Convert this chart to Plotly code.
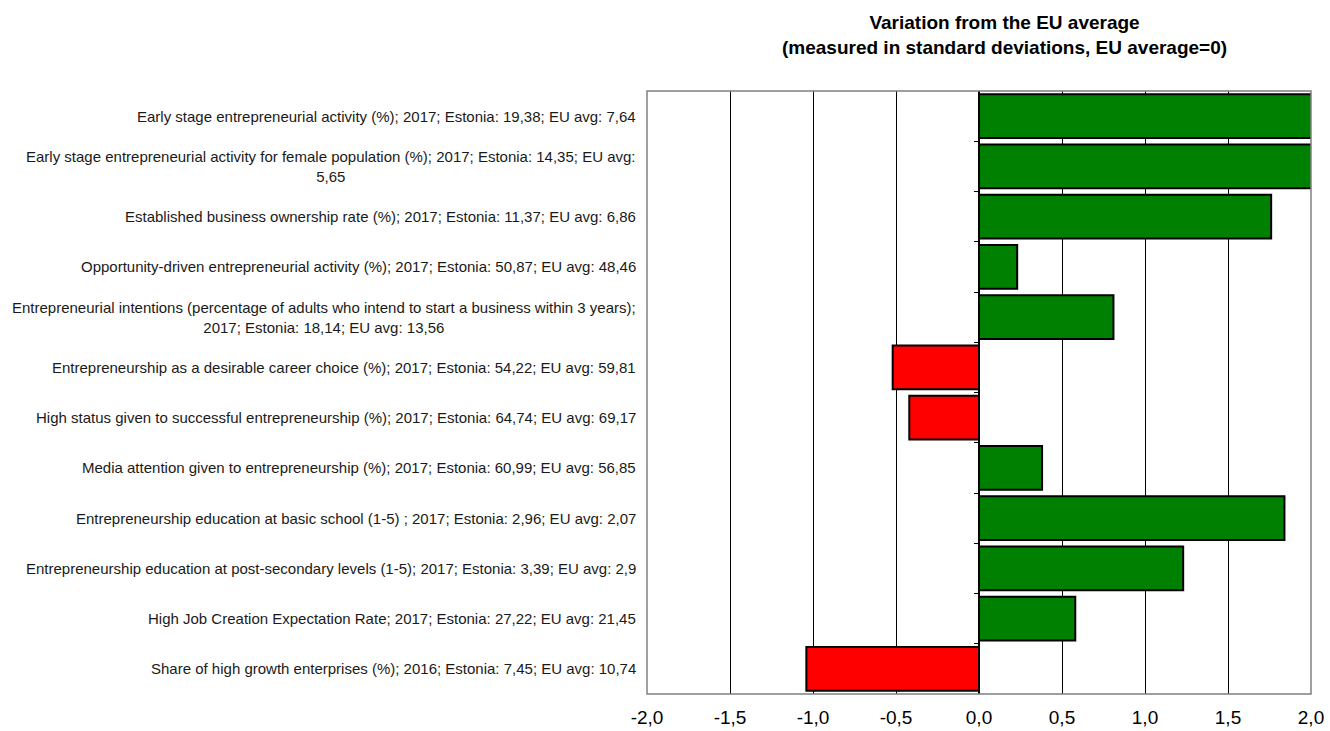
import plotly.graph_objects as go

categories = [
    "Early stage entrepreneurial activity (%); 2017; Estonia: 19,38; EU avg: 7,64",
    "Early stage entrepreneurial activity for female population (%); 2017; Estonia: 14,35; EU avg:<br>5,65",
    "Established business ownership rate (%); 2017; Estonia: 11,37; EU avg: 6,86",
    "Opportunity-driven entrepreneurial activity (%); 2017; Estonia: 50,87; EU avg: 48,46",
    "Entrepreneurial intentions (percentage of adults who intend to start a business within 3 years);<br>2017; Estonia: 18,14; EU avg: 13,56",
    "Entrepreneurship as a desirable career choice (%); 2017; Estonia: 54,22; EU avg: 59,81",
    "High status given to successful entrepreneurship (%); 2017; Estonia: 64,74; EU avg: 69,17",
    "Media attention given to entrepreneurship (%); 2017; Estonia: 60,99; EU avg: 56,85",
    "Entrepreneurship education at basic school (1-5) ; 2017; Estonia: 2,96; EU avg: 2,07",
    "Entrepreneurship education at post-secondary levels (1-5); 2017; Estonia: 3,39; EU avg: 2,9",
    "High Job Creation Expectation Rate; 2017; Estonia: 27,22; EU avg: 21,45",
    "Share of high growth enterprises (%); 2016; Estonia: 7,45; EU avg: 10,74",
]
values = [2.5, 2.3, 1.76, 0.23, 0.81, -0.52, -0.42, 0.38, 1.84, 1.23, 0.58, -1.04]
x_ticks = [-2.0, -1.5, -1.0, -0.5, 0.0, 0.5, 1.0, 1.5, 2.0]
x_tick_labels = ["-2,0", "-1,5", "-1,0", "-0,5", "0,0", "0,5", "1,0", "1,5", "2,0"]
title_text = "<b>Variation from the EU average<br>(measured in standard deviations, EU average=0)</b>"

colors = ["#008000" if v >= 0 else "#FF0000" for v in values]
ids = list(range(len(categories)))

fig = go.Figure()
fig.add_trace(go.Bar(
    x=values, y=ids, orientation="h",
    marker=dict(color=colors, line=dict(color="black", width=2)),
    hoverinfo="x",
))

LABEL_FONT = dict(family="Liberation Sans, Arial", size=15, color="#1a1a1a")
for i, c in zip(ids, categories):
    fig.add_annotation(
        x=0, xref="paper", xanchor="right", xshift=-9,
        y=i, yref="y", yanchor="middle",
        text=c, showarrow=False, align="center", font=LABEL_FONT,
    )

fig.add_annotation(
    x=0.539, xref="paper", xanchor="center",
    y=1.134, yref="paper", yanchor="top",
    text=title_text, showarrow=False, align="center",
    font=dict(family="Liberation Sans, Arial", size=19, color="black"),
)

fig.add_shape(type="rect", xref="paper", yref="paper", x0=0, x1=1, y0=0, y1=1,
              line=dict(color="#808080", width=1.5), layer="above")

fig.update_layout(
    width=1330, height=731,
    margin=dict(l=647, r=19, t=91, b=37, autoexpand=False),
    paper_bgcolor="white", plot_bgcolor="white",
    bargap=0.125,
    showlegend=False,
    xaxis=dict(
        range=[-2, 2], tickvals=x_ticks, ticktext=x_tick_labels,
        showgrid=True, gridcolor="black", gridwidth=1,
        zeroline=True, zerolinecolor="black", zerolinewidth=1.5,
        showline=False, ticks="", ticklabelstandoff=10, automargin=False,
        tickfont=dict(family="Liberation Sans, Arial", size=19, color="black"),
    ),
    yaxis=dict(
        range=[11.5, -0.5], automargin=False,
        tickvals=[i + 0.5 for i in ids[:-1]],
        showticklabels=False, showgrid=False, zeroline=False,
        anchor="free", position=0.5, showline=True, linecolor="black", linewidth=1.5,
        ticks="outside", ticklen=4, tickcolor="black",
    ),
)

fig.write_html(
    "out.html",
    config={"displayModeBar": False},
    post_script="document.body.style.margin='0';document.body.style.overflow='hidden';",
)
